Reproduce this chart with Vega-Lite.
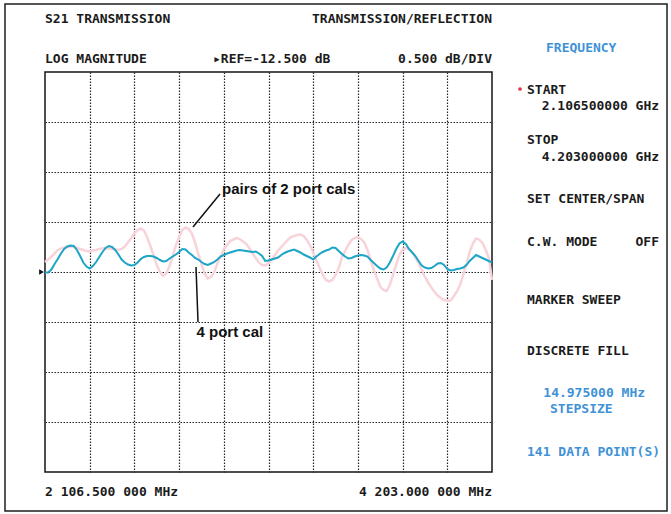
{
  "$schema": "https://vega.github.io/schema/vega-lite/v6.json",
  "width": 447,
  "height": 400,
  "autosize": {"type": "none"},
  "padding": {"left": 45, "top": 72, "right": 179, "bottom": 42},
  "background": "white",
  "config": {
    "view": {"stroke": "#151515", "strokeWidth": 1.5},
    "axis": {"labels": false, "ticks": false, "domain": false, "title": null, "grid": true, "gridDash": [1.5, 1.5], "gridColor": "#22222c", "gridWidth": 1.2, "gridOpacity": 1}
  },
  "datasets": {
    "trace": [
      {"f":2106.5,"four_port":-12.505,"two_port":-12.4},
      {"f":2121.475,"four_port":-12.505,"two_port":-12.375},
      {"f":2136.45,"four_port":-12.475,"two_port":-12.345},
      {"f":2151.425,"four_port":-12.42,"two_port":-12.315},
      {"f":2166.4,"four_port":-12.37,"two_port":-12.28},
      {"f":2181.375,"four_port":-12.315,"two_port":-12.265},
      {"f":2196.35,"four_port":-12.27,"two_port":-12.255},
      {"f":2211.325,"four_port":-12.245,"two_port":-12.25},
      {"f":2226.3,"four_port":-12.235,"two_port":-12.245},
      {"f":2241.275,"four_port":-12.24,"two_port":-12.25},
      {"f":2256.25,"four_port":-12.28,"two_port":-12.26},
      {"f":2271.225,"four_port":-12.34,"two_port":-12.27},
      {"f":2286.2,"four_port":-12.405,"two_port":-12.28},
      {"f":2301.175,"four_port":-12.445,"two_port":-12.29},
      {"f":2316.15,"four_port":-12.465,"two_port":-12.295},
      {"f":2331.125,"four_port":-12.44,"two_port":-12.285},
      {"f":2346.1,"four_port":-12.4,"two_port":-12.28},
      {"f":2361.075,"four_port":-12.35,"two_port":-12.27},
      {"f":2376.05,"four_port":-12.3,"two_port":-12.265},
      {"f":2391.025,"four_port":-12.26,"two_port":-12.26},
      {"f":2406.0,"four_port":-12.24,"two_port":-12.265},
      {"f":2420.975,"four_port":-12.25,"two_port":-12.27},
      {"f":2435.95,"four_port":-12.28,"two_port":-12.275},
      {"f":2450.925,"four_port":-12.325,"two_port":-12.28},
      {"f":2465.9,"four_port":-12.375,"two_port":-12.27},
      {"f":2480.875,"four_port":-12.405,"two_port":-12.245},
      {"f":2495.85,"four_port":-12.425,"two_port":-12.205},
      {"f":2510.825,"four_port":-12.435,"two_port":-12.16},
      {"f":2525.8,"four_port":-12.43,"two_port":-12.115},
      {"f":2540.775,"four_port":-12.405,"two_port":-12.08},
      {"f":2555.75,"four_port":-12.37,"two_port":-12.065},
      {"f":2570.725,"four_port":-12.35,"two_port":-12.085},
      {"f":2585.7,"four_port":-12.34,"two_port":-12.155},
      {"f":2600.675,"four_port":-12.34,"two_port":-12.24},
      {"f":2615.65,"four_port":-12.345,"two_port":-12.335},
      {"f":2630.625,"four_port":-12.36,"two_port":-12.43},
      {"f":2645.6,"four_port":-12.38,"two_port":-12.5},
      {"f":2660.575,"four_port":-12.395,"two_port":-12.54},
      {"f":2675.55,"four_port":-12.39,"two_port":-12.515},
      {"f":2690.525,"four_port":-12.365,"two_port":-12.44},
      {"f":2705.5,"four_port":-12.345,"two_port":-12.34},
      {"f":2720.475,"four_port":-12.325,"two_port":-12.235},
      {"f":2735.45,"four_port":-12.3,"two_port":-12.15},
      {"f":2750.425,"four_port":-12.27,"two_port":-12.08},
      {"f":2765.4,"four_port":-12.275,"two_port":-12.055},
      {"f":2780.375,"four_port":-12.305,"two_port":-12.07},
      {"f":2795.35,"four_port":-12.33,"two_port":-12.115},
      {"f":2810.325,"four_port":-12.36,"two_port":-12.205},
      {"f":2825.3,"four_port":-12.375,"two_port":-12.32},
      {"f":2840.275,"four_port":-12.4,"two_port":-12.42},
      {"f":2855.25,"four_port":-12.42,"two_port":-12.52},
      {"f":2870.225,"four_port":-12.43,"two_port":-12.565},
      {"f":2885.2,"four_port":-12.415,"two_port":-12.55},
      {"f":2900.175,"four_port":-12.4,"two_port":-12.5},
      {"f":2915.15,"four_port":-12.375,"two_port":-12.415},
      {"f":2930.125,"four_port":-12.345,"two_port":-12.34},
      {"f":2945.1,"four_port":-12.33,"two_port":-12.275},
      {"f":2960.075,"four_port":-12.315,"two_port":-12.23},
      {"f":2975.05,"four_port":-12.305,"two_port":-12.19},
      {"f":2990.025,"four_port":-12.295,"two_port":-12.175},
      {"f":3005.0,"four_port":-12.285,"two_port":-12.16},
      {"f":3019.975,"four_port":-12.28,"two_port":-12.17},
      {"f":3034.95,"four_port":-12.285,"two_port":-12.195},
      {"f":3049.925,"four_port":-12.29,"two_port":-12.22},
      {"f":3064.9,"four_port":-12.295,"two_port":-12.26},
      {"f":3079.875,"four_port":-12.3,"two_port":-12.315},
      {"f":3094.85,"four_port":-12.295,"two_port":-12.36},
      {"f":3109.825,"four_port":-12.315,"two_port":-12.405},
      {"f":3124.8,"four_port":-12.34,"two_port":-12.43},
      {"f":3139.775,"four_port":-12.39,"two_port":-12.435},
      {"f":3154.75,"four_port":-12.385,"two_port":-12.41},
      {"f":3169.725,"four_port":-12.375,"two_port":-12.375},
      {"f":3184.7,"four_port":-12.365,"two_port":-12.33},
      {"f":3199.675,"four_port":-12.355,"two_port":-12.285},
      {"f":3214.65,"four_port":-12.33,"two_port":-12.25},
      {"f":3229.625,"four_port":-12.31,"two_port":-12.215},
      {"f":3244.6,"four_port":-12.295,"two_port":-12.18},
      {"f":3259.575,"four_port":-12.285,"two_port":-12.15},
      {"f":3274.55,"four_port":-12.275,"two_port":-12.14},
      {"f":3289.525,"four_port":-12.29,"two_port":-12.13},
      {"f":3304.5,"four_port":-12.305,"two_port":-12.125},
      {"f":3319.475,"four_port":-12.325,"two_port":-12.14},
      {"f":3334.45,"four_port":-12.34,"two_port":-12.18},
      {"f":3349.425,"four_port":-12.355,"two_port":-12.23},
      {"f":3364.4,"four_port":-12.375,"two_port":-12.305},
      {"f":3379.375,"four_port":-12.345,"two_port":-12.385},
      {"f":3394.35,"four_port":-12.32,"two_port":-12.46},
      {"f":3409.325,"four_port":-12.3,"two_port":-12.53},
      {"f":3424.3,"four_port":-12.285,"two_port":-12.58},
      {"f":3439.275,"four_port":-12.275,"two_port":-12.595},
      {"f":3454.25,"four_port":-12.255,"two_port":-12.58},
      {"f":3469.225,"four_port":-12.26,"two_port":-12.53},
      {"f":3484.2,"four_port":-12.29,"two_port":-12.46},
      {"f":3499.175,"four_port":-12.32,"two_port":-12.35},
      {"f":3514.15,"four_port":-12.345,"two_port":-12.29},
      {"f":3529.125,"four_port":-12.365,"two_port":-12.23},
      {"f":3544.1,"four_port":-12.36,"two_port":-12.18},
      {"f":3559.075,"four_port":-12.345,"two_port":-12.16},
      {"f":3574.05,"four_port":-12.335,"two_port":-12.15},
      {"f":3589.025,"four_port":-12.33,"two_port":-12.17},
      {"f":3604.0,"four_port":-12.335,"two_port":-12.205},
      {"f":3618.975,"four_port":-12.345,"two_port":-12.28},
      {"f":3633.95,"four_port":-12.38,"two_port":-12.38},
      {"f":3648.925,"four_port":-12.41,"two_port":-12.48},
      {"f":3663.9,"four_port":-12.44,"two_port":-12.565},
      {"f":3678.875,"four_port":-12.465,"two_port":-12.645},
      {"f":3693.85,"four_port":-12.475,"two_port":-12.68},
      {"f":3708.825,"four_port":-12.455,"two_port":-12.69},
      {"f":3723.8,"four_port":-12.405,"two_port":-12.63},
      {"f":3738.775,"four_port":-12.34,"two_port":-12.53},
      {"f":3753.75,"four_port":-12.27,"two_port":-12.425},
      {"f":3768.725,"four_port":-12.215,"two_port":-12.33},
      {"f":3783.7,"four_port":-12.195,"two_port":-12.275},
      {"f":3798.675,"four_port":-12.22,"two_port":-12.26},
      {"f":3813.65,"four_port":-12.27,"two_port":-12.275},
      {"f":3828.625,"four_port":-12.305,"two_port":-12.3},
      {"f":3843.6,"four_port":-12.34,"two_port":-12.355},
      {"f":3858.575,"four_port":-12.39,"two_port":-12.41},
      {"f":3873.55,"four_port":-12.435,"two_port":-12.48},
      {"f":3888.525,"four_port":-12.455,"two_port":-12.55},
      {"f":3903.5,"four_port":-12.465,"two_port":-12.605},
      {"f":3918.475,"four_port":-12.46,"two_port":-12.655},
      {"f":3933.45,"four_port":-12.44,"two_port":-12.7},
      {"f":3948.425,"four_port":-12.415,"two_port":-12.735},
      {"f":3963.4,"four_port":-12.41,"two_port":-12.76},
      {"f":3978.375,"four_port":-12.43,"two_port":-12.78},
      {"f":3993.35,"four_port":-12.47,"two_port":-12.79},
      {"f":4008.325,"four_port":-12.485,"two_port":-12.785},
      {"f":4023.3,"four_port":-12.48,"two_port":-12.745},
      {"f":4038.275,"four_port":-12.47,"two_port":-12.695},
      {"f":4053.25,"four_port":-12.465,"two_port":-12.63},
      {"f":4068.225,"four_port":-12.455,"two_port":-12.53},
      {"f":4083.2,"four_port":-12.43,"two_port":-12.42},
      {"f":4098.175,"four_port":-12.39,"two_port":-12.3},
      {"f":4113.15,"four_port":-12.36,"two_port":-12.215},
      {"f":4128.125,"four_port":-12.33,"two_port":-12.165},
      {"f":4143.1,"four_port":-12.345,"two_port":-12.175},
      {"f":4158.075,"four_port":-12.36,"two_port":-12.21},
      {"f":4173.05,"four_port":-12.375,"two_port":-12.275},
      {"f":4188.025,"four_port":-12.39,"two_port":-12.36},
      {"f":4203.0,"four_port":-12.405,"two_port":-12.58}
    ]
  },
  "encoding": {
    "x": {"field": "f", "type": "quantitative", "scale": {"domain": [2106.5, 4203], "nice": false, "zero": false},
          "axis": {"values": [2316.15, 2525.8, 2735.45, 2945.1, 3154.75, 3364.4, 3574.05, 3783.7, 3993.35]}},
    "y": {"field": "db", "type": "quantitative", "scale": {"domain": [-14.5, -10.5], "nice": false, "zero": false},
          "axis": {"values": [-14, -13.5, -13, -12.5, -12, -11.5, -11]}}
  },
  "layer": [
    {
      "data": {"values": [{"f": 1918.9, "f2": 5023.8, "db": -9.82, "db2": -14.89}]},
      "mark": {"type": "rect", "fill": "transparent", "stroke": "#1e1e1e", "strokeWidth": 1.5},
      "encoding": {"x2": {"field": "f2"}, "y2": {"field": "db2"}}
    },
    {
      "data": {"name": "trace"},
      "mark": {"type": "line", "color": "#f8d3d9", "strokeWidth": 2.5},
      "encoding": {"y": {"field": "two_port", "type": "quantitative", "scale": {"domain": [-14.5, -10.5], "nice": false, "zero": false}}}
    },
    {
      "data": {"name": "trace"},
      "mark": {"type": "line", "color": "#1ca5c6", "strokeWidth": 2},
      "encoding": {"y": {"field": "four_port", "type": "quantitative", "scale": {"domain": [-14.5, -10.5], "nice": false, "zero": false}}}
    },
    {
      "data": {"values": [{"f": 2090.1, "db": -12.5}]},
      "mark": {"type": "point", "shape": "triangle-right", "filled": true, "color": "#111", "size": 30, "opacity": 1}
    },
    {
      "data": {"values": [
        {"f": 2927.3, "db": -11.72, "f2": 2800.6, "db2": -12.05},
        {"f": 2814.7, "db": -12.45, "f2": 2824.1, "db2": -13.0}
      ]},
      "mark": {"type": "rule", "color": "#111", "strokeWidth": 1.5},
      "encoding": {"x2": {"field": "f2"}, "y2": {"field": "db2"}}
    },
    {
      "data": {"values": [
        {"label": "pairs of 2 port cals", "f": 2936.7, "db": -11.72},
        {"label": "4 port cal", "f": 2817.1, "db": -13.15}
      ]},
      "mark": {"type": "text", "align": "left", "baseline": "alphabetic", "font": "Liberation Sans", "fontWeight": "bold", "fontSize": 15, "color": "#111"},
      "encoding": {"text": {"field": "label"}}
    },
    {
      "data": {"values": [
        {"label": "S21 TRANSMISSION", "f": 2106.5, "db": -10.005},
        {"label": "LOG MAGNITUDE", "f": 2106.5, "db": -10.41},
        {"label": "▸REF=-12.500 dB", "f": 2894.5, "db": -10.41},
        {"label": "2 106.500 000 MHz", "f": 2106.5, "db": -14.74},
        {"label": "START", "f": 4367.2, "db": -10.72},
        {"label": "2.106500000 GHz", "f": 4436.1, "db": -10.88},
        {"label": "STOP", "f": 4367.2, "db": -11.22},
        {"label": "4.203000000 GHz", "f": 4436.1, "db": -11.385},
        {"label": "SET CENTER/SPAN", "f": 4367.2, "db": -11.81},
        {"label": "C.W. MODE", "f": 4367.2, "db": -12.24},
        {"label": "MARKER SWEEP", "f": 4367.2, "db": -12.82},
        {"label": "DISCRETE FILL", "f": 4367.2, "db": -13.33}
      ]},
      "mark": {"type": "text", "align": "left", "baseline": "alphabetic", "font": "DejaVu Sans Mono", "fontWeight": "bold", "fontSize": 13, "color": "#1b1b1b"},
      "encoding": {"text": {"field": "label"}}
    },
    {
      "data": {"values": [
        {"label": "TRANSMISSION/REFLECTION", "f": 4203, "db": -10.005},
        {"label": "0.500 dB/DIV", "f": 4203, "db": -10.41},
        {"label": "4 203.000 000 MHz", "f": 4203, "db": -14.74},
        {"label": "OFF", "f": 4986.3, "db": -12.24}
      ]},
      "mark": {"type": "text", "align": "right", "baseline": "alphabetic", "font": "DejaVu Sans Mono", "fontWeight": "bold", "fontSize": 13, "color": "#1b1b1b"},
      "encoding": {"text": {"field": "label"}}
    },
    {
      "data": {"values": [
        {"label": "FREQUENCY", "f": 4456.3, "db": -10.295},
        {"label": "14.975000 MHz", "f": 4443.6, "db": -13.745},
        {"label": "STEPSIZE", "f": 4475.1, "db": -13.91},
        {"label": "141 DATA POINT(S)", "f": 4367.2, "db": -14.34}
      ]},
      "mark": {"type": "text", "align": "left", "baseline": "alphabetic", "font": "DejaVu Sans Mono", "fontWeight": "bold", "fontSize": 13, "color": "#3f92d6"},
      "encoding": {"text": {"field": "label"}}
    },
    {
      "data": {"values": [{"f": 4334.3, "db": -10.67}]},
      "mark": {"type": "point", "shape": "circle", "filled": true, "color": "#e8344a", "size": 14, "opacity": 1}
    }
  ]
}
